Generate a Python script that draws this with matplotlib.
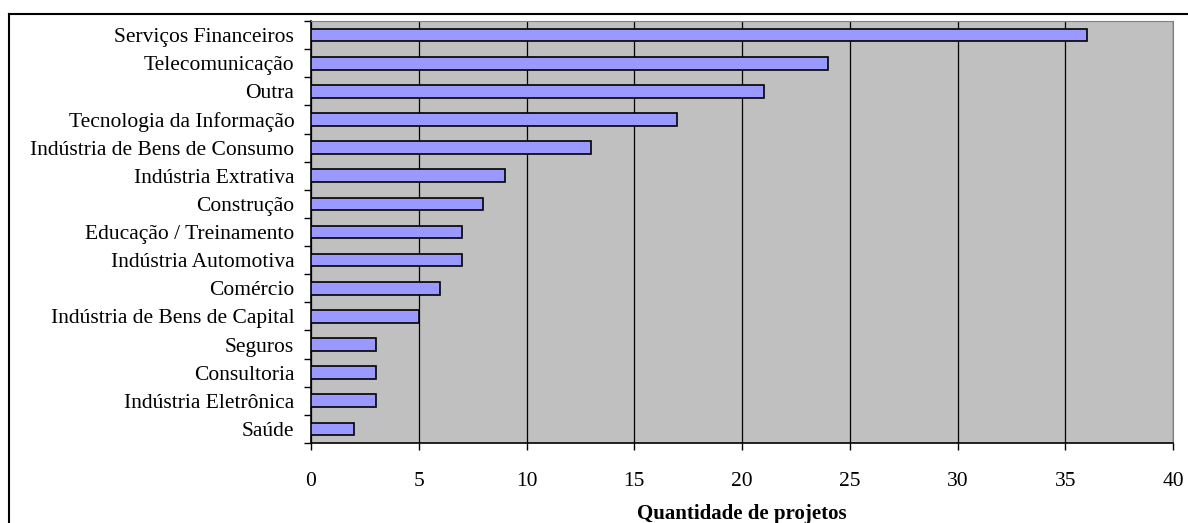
import numpy as np
import matplotlib
matplotlib.use('Agg')
import matplotlib.pyplot as plt
from matplotlib.lines import Line2D

plt.rcParams['font.family'] = ['Liberation Serif', 'DejaVu Serif']

setores = ['Serviços Financeiros', 'Telecomunicação', 'Outra', 'Tecnologia da Informação',
           'Indústria de Bens de Consumo', 'Indústria Extrativa', 'Construção',
           'Educação / Treinamento', 'Indústria Automotiva', 'Comércio',
           'Indústria de Bens de Capital', 'Seguros', 'Consultoria',
           'Indústria Eletrônica', 'Saúde']
projetos = [36, 24, 21, 17, 13, 9, 8, 7, 7, 6, 5, 3, 3, 3, 2]
xticks = [0, 5, 10, 15, 20, 25, 30, 35, 40]

fig = plt.figure(figsize=(11.88, 5.23), dpi=100)
ax = fig.add_axes([311 / 1188, 80 / 523, 862 / 1188, 422 / 523])

y = np.arange(len(setores))[::-1]
ax.barh(y, projetos, height=0.45, color='#9999FF', edgecolor='black', linewidth=1.2, zorder=3)

ax.set_facecolor('#C0C0C0')
ax.set_xlim(0, 40)
ax.set_ylim(-0.5, len(setores) - 0.5)
ax.set_xticks(xticks)
ax.set_xticklabels([str(v) for v in xticks], fontsize=15.5)
ax.xaxis.grid(True, color='black', linewidth=0.9, zorder=1)

ax.set_yticks(y)
ax.set_yticklabels(setores, fontsize=15.5)
ax.set_yticks(np.arange(len(setores) + 1) - 0.5, minor=True)
ax.tick_params(axis='y', which='major', length=0, pad=12)
ax.tick_params(axis='y', which='minor', length=5, width=1, direction='out')
ax.tick_params(axis='x', which='major', length=5, width=1, direction='out', pad=16)

for side in ['top', 'right']:
    ax.spines[side].set_color('#808080')
for side in ['left', 'bottom']:
    ax.spines[side].set_color('black')
    ax.spines[side].set_linewidth(1.2)

ax.set_xlabel('Quantidade de projetos', fontsize=15, fontweight='bold', labelpad=9)

# moldura externa do gráfico
fig.add_artist(Line2D([9 / 1188, 1.0], [1 - 14 / 523, 1 - 14 / 523], color='black', linewidth=1.5))
fig.add_artist(Line2D([9 / 1188, 9 / 1188], [0.0, 1 - 14 / 523], color='black', linewidth=1.5))

fig.savefig('out.png', dpi=100)
